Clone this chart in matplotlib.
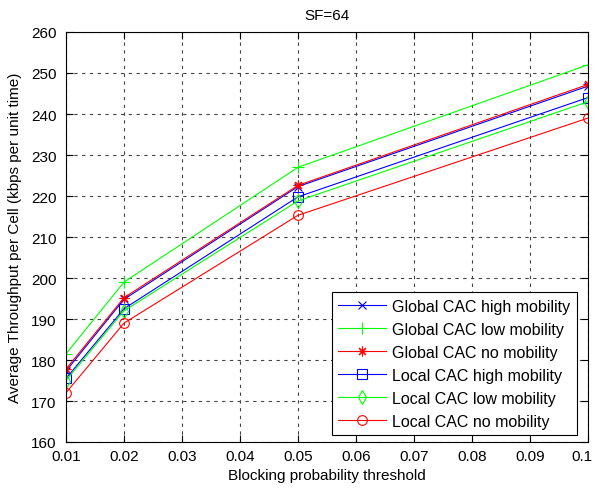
import matplotlib
matplotlib.use("Agg")
import matplotlib.pyplot as plt
import matplotlib.transforms as mtransforms

plt.rcParams['font.family'] = ['Liberation Sans', 'DejaVu Sans']

x = [0.01, 0.02, 0.05, 0.1]
global_high = [177.3, 194.8, 222.3, 246.8]
global_low = [181.5, 199.0, 227.0, 252.0]
global_no = [177.8, 195.2, 222.6, 247.2]
local_high = [175.5, 192.5, 219.8, 244.0]
local_low = [175.0, 192.0, 218.8, 243.0]
local_no = [172.0, 189.0, 215.3, 239.0]

xticks = [0.01, 0.02, 0.03, 0.04, 0.05, 0.06, 0.07, 0.08, 0.09, 0.1]
xticklabels = ['0.01', '0.02', '0.03', '0.04', '0.05', '0.06', '0.07', '0.08', '0.09', '0.1']
yticks = list(range(160, 261, 10))

W, H = 596, 489
fig = plt.figure(figsize=(W/100, H/100), dpi=100)
L, R, T, B = 66, 588, 33, 443
ax = fig.add_axes([L/W, 1-B/H, (R-L)/W, (B-T)/H])

series = [
    (global_high, 'b', 'x', 6, 'Global CAC high mobility'),
    (global_low, '#00ff00', '+', 8, 'Global CAC low mobility'),
    (global_no, 'r', (8, 2, 0), 7, 'Global CAC no mobility'),
    (local_high, 'b', 's', 7, 'Local CAC high mobility'),
    (local_low, '#00ff00', 'd', 7, 'Local CAC low mobility'),
    (local_no, 'r', 'o', 7, 'Local CAC no mobility'),
]
for vals, c, m, ms, lab in series:
    ax.plot(x, vals, color=c, marker=m, markersize=ms,
            markerfacecolor='none', markeredgecolor=c, linewidth=0.8,
            markeredgewidth=0.8, label=lab)

ax.set_xlim(0.01, 0.1)
ax.set_ylim(160, 260)
ax.set_xticks(xticks)
ax.set_xticklabels(xticklabels)
ax.set_yticks(yticks)
ax.tick_params(direction='in', labelsize=11, length=5, top=True, right=True)
ax.tick_params(axis='y', pad=7)
ax.tick_params(axis='x', pad=5)
lbl = ax.get_xticklabels()[-1]
lbl.set_transform(lbl.get_transform() + mtransforms.ScaledTranslation(-6/100, 0, fig.dpi_scale_trans))
ax.grid(True, color='#444444', linestyle=(0, (3, 4)), linewidth=0.8)
for s in ax.spines.values():
    s.set_linewidth(0.8)

ax.set_title('SF=64', fontsize=11, pad=9)
ax.set_xlabel('Blocking probability threshold', fontsize=11, labelpad=4)
ax.set_ylabel('Average Throughput per Cell (kbps per unit time)', fontsize=11, labelpad=6)

leg = ax.legend(loc='lower right', fontsize=11.5, fancybox=False, framealpha=1,
                edgecolor='black', bbox_to_anchor=(577/W, 1-436/H),
                bbox_transform=fig.transFigure, borderaxespad=0,
                handlelength=3.0, handletextpad=0.4,
                labelspacing=0.5, borderpad=0.4)
leg.get_frame().set_linewidth(0.8)

fig.savefig('out.png', dpi=100)
